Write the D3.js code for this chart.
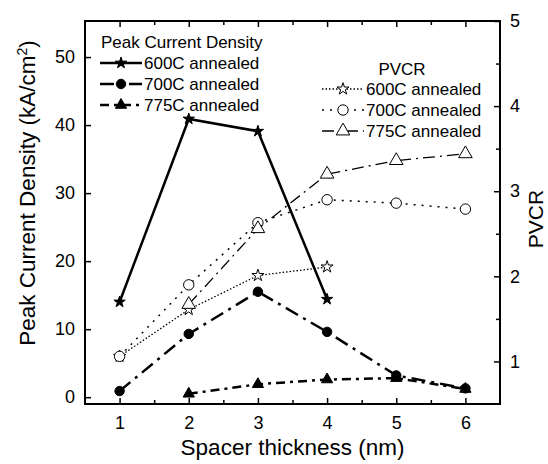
<!DOCTYPE html>
<html>
<head>
<meta charset="utf-8">
<script src="https://cdn.jsdelivr.net/npm/d3@7"></script>
<style>
  body { margin: 0; background: #fff; }
  svg { display: block; }
  text { font-family: "Liberation Sans", Arial, Helvetica, sans-serif; fill: #000; }
</style>
</head>
<body>
<script>
// Date
const thickness = [1, 2, 3, 4, 5, 6];
const pcd600 = [14.0, 40.9, 39.1, 14.4, null, null];
const pcd700 = [0.9, 9.3, 15.5, 9.6, 3.2, 1.3];
const pcd775 = [null, 0.5, 1.9, 2.6, 2.8, 1.2];
const pvcr600 = [1.06, 1.61, 2.01, 2.11, null, null];
const pvcr700 = [1.06, 1.90, 2.63, 2.90, 2.86, 2.79];
const pvcr775 = [null, 1.67, 2.56, 3.20, 3.36, 3.44];

const leftTicks = [0, 10, 20, 30, 40, 50];
const rightTicks = [1, 2, 3, 4, 5];
const legendLabels = ["600C annealed", "700C annealed", "775C annealed"];

const width = 548, height = 464;
const plotL = 85, plotR = 500, plotT = 21, plotB = 404;

const svg = d3.select("body").append("svg")
  .attr("width", width)
  .attr("height", height);

const x = d3.scaleLinear().domain([0.5, 6.5]).range([plotL, plotR]);
const yL = d3.scaleLinear().domain([-1, 55.3]).range([plotB, plotT]);
const yR = d3.scaleLinear().domain([0.5, 5.0]).range([plotB, plotT]);

// Stiluri serii
const series = [
  { vals: pcd600, axis: yL, dash: null, w: 2.5, sym: d3.symbolStar, size: 40, fill: "#000" },
  { vals: pcd700, axis: yL, dash: "14,6,3,6", w: 2.5, sym: d3.symbolCircle, size: 70, fill: "#000" },
  { vals: pcd775, axis: yL, dash: "9,5,3,5", w: 2.5, sym: d3.symbolTriangle, size: 55, fill: "#000" },
  { vals: pvcr600, axis: yR, dash: "1.5,2", w: 1.3, sym: d3.symbolStar, size: 45, fill: "#fff" },
  { vals: pvcr700, axis: yR, dash: "2,6", w: 1.5, sym: d3.symbolCircle, size: 85, fill: "#fff" },
  { vals: pvcr775, axis: yR, dash: "12,5,2,5", w: 1.3, sym: d3.symbolTriangle, size: 80, fill: "#fff" }
];

// Axe (ticks spre interior)
const xMinor = d3.range(1.5, 6.5, 1);

svg.append("g").attr("transform", `translate(0,${plotB})`)
  .call(d3.axisBottom(x).tickValues(thickness).tickSize(-6).tickPadding(12).tickFormat(d3.format("d")));
svg.append("g").attr("transform", `translate(0,${plotT})`)
  .call(d3.axisTop(x).tickValues(thickness).tickSize(-6).tickFormat(""));
svg.append("g").attr("transform", `translate(0,${plotB})`)
  .call(d3.axisBottom(x).tickValues(xMinor).tickSize(-4).tickFormat(""));
svg.append("g").attr("transform", `translate(0,${plotT})`)
  .call(d3.axisTop(x).tickValues(xMinor).tickSize(-4).tickFormat(""));

svg.append("g").attr("transform", `translate(${plotL},0)`)
  .call(d3.axisLeft(yL).tickValues(leftTicks).tickSize(-6).tickPadding(10));
svg.append("g").attr("transform", `translate(${plotR},0)`)
  .call(d3.axisRight(yR).tickValues(rightTicks).tickSize(-6).tickPadding(10).tickFormat(d3.format("d")));
svg.append("g").attr("transform", `translate(${plotR},0)`)
  .call(d3.axisRight(yR).tickValues(d3.range(1.5, 5, 1)).tickSize(-4).tickFormat(""));

svg.selectAll(".domain").remove();
svg.selectAll(".tick line").attr("stroke", "#000").attr("stroke-width", 1.5);
svg.selectAll(".tick text").style("font-size", "18px").attr("fill", "#000");

// Chenar
svg.append("rect")
  .attr("x", plotL).attr("y", plotT)
  .attr("width", plotR - plotL).attr("height", plotB - plotT)
  .attr("fill", "none").attr("stroke", "#000").attr("stroke-width", 2);

// Linii si markere
series.forEach(s => {
  const pts = thickness.map((t, i) => ({ t, v: s.vals[i] })).filter(p => p.v !== null);
  const line = d3.line().x(p => x(p.t)).y(p => s.axis(p.v));
  svg.append("path")
    .attr("d", line(pts))
    .attr("fill", "none")
    .attr("stroke", "#000")
    .attr("stroke-width", s.w)
    .attr("stroke-dasharray", s.dash);
  svg.selectAll(null).data(pts).enter().append("path")
    .attr("d", d3.symbol().type(s.sym).size(s.size))
    .attr("transform", p => `translate(${x(p.t)},${s.axis(p.v)})`)
    .attr("fill", s.fill)
    .attr("stroke", "#000")
    .attr("stroke-width", 1);
});

// Legende
function legend(title, titleX, titleY, sx, rowY, items) {
  svg.append("text")
    .attr("x", titleX).attr("y", titleY)
    .attr("text-anchor", title === "PVCR" ? "middle" : "start")
    .style("font-size", "17px")
    .text(title);
  items.forEach((s, i) => {
    const yy = rowY + i * 21;
    svg.append("line")
      .attr("x1", sx).attr("x2", sx + 42)
      .attr("y1", yy).attr("y2", yy)
      .attr("stroke", "#000")
      .attr("stroke-width", s.w)
      .attr("stroke-dasharray", s.dash);
    svg.append("path")
      .attr("d", d3.symbol().type(s.sym).size(s.size))
      .attr("transform", `translate(${sx + 21},${yy})`)
      .attr("fill", s.fill)
      .attr("stroke", "#000");
    svg.append("text")
      .attr("x", sx + 44).attr("y", yy)
      .attr("dy", "0.35em")
      .style("font-size", "17px")
      .text(legendLabels[i]);
  });
}
legend("Peak Current Density", 101, 48, 100, 63, series.slice(0, 3));
legend("PVCR", 402, 75, 322, 89, series.slice(3));

// Titluri axe
svg.append("text")
  .attr("transform", `translate(${x(3.5)},455)`)
  .attr("text-anchor", "middle")
  .style("font-size", "22.5px")
  .text("Spacer thickness (nm)");

svg.append("text")
  .attr("transform", "translate(35,193) rotate(-90)")
  .attr("text-anchor", "middle")
  .style("font-size", "22.5px")
  .html("Peak Current Density (kA/cm<tspan baseline-shift='super' font-size='14px'>2</tspan>)");

svg.append("text")
  .attr("transform", "translate(543,219) rotate(-90)")
  .attr("text-anchor", "middle")
  .style("font-size", "21px")
  .text("PVCR");
</script>
</body>
</html>
